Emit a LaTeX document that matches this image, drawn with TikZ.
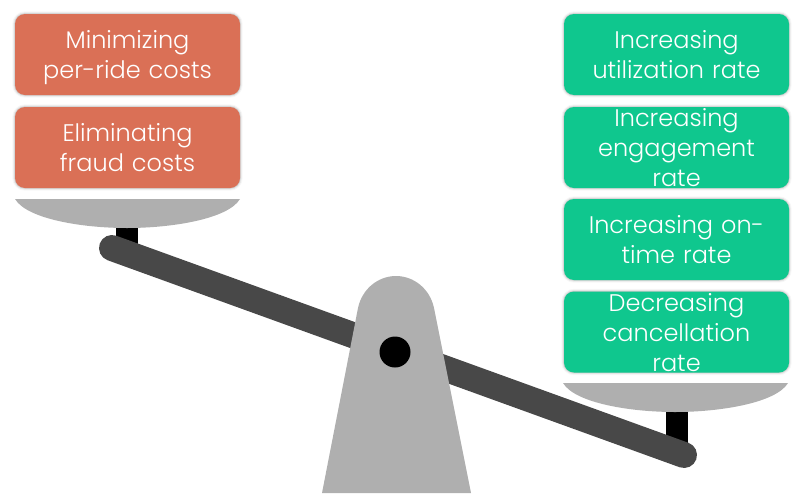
\documentclass[tikz,border=0pt]{standalone}
\usepackage{fontspec}
\setmainfont{Poppins}[UprightFont=* Light]
\definecolor{costred}{RGB}{218,112,86}
\definecolor{rategreen}{RGB}{15,199,142}
\definecolor{pangray}{RGB}{175,175,175}
\definecolor{beamgray}{RGB}{72,72,72}
\newcommand{\linestrut}{\rule[-7.5pt]{0pt}{21pt}}
\begin{document}
\begin{tikzpicture}[x=0.75pt,y=-0.75pt]
\tikzstyle{card}=[rounded corners=7.5pt, inner sep=0pt, minimum width=168.75pt, minimum height=60.75pt,
  preaction={draw=black, opacity=0.03, line width=4pt}, preaction={draw=black, opacity=0.06, line width=2.5pt}, preaction={draw=black, opacity=0.12, line width=1pt}]
\tikzstyle{cardtext}=[inner sep=0pt, yshift=-3.75pt, text width=168.75pt, align=center, text=white, font=\fontsize{18}{22.5}\selectfont,
  execute at begin node=\linestrut, execute at end node=\linestrut]
\tikzstyle{cost}=[card, fill=costred]
\tikzstyle{rate}=[card, fill=rategreen]
\useasboundingbox (0,0) rectangle (802,493);

% stems and beam
\fill[black] (116,225) rectangle (138,245);
\fill[black] (666,410) rectangle (688,450);
\draw[beamgray, line width=19.5pt, line cap=round] (112,248) -- (684,455);

% pans
\fill[pangray] (15,199) -- (240,199) .. controls (228,219) and (172,228) .. (127,228) .. controls (82,228) and (27,219) .. (15,199) -- cycle;
\fill[pangray] (563,383) -- (788,383) .. controls (776,403) and (720,412) .. (675,412) .. controls (630,412) and (575,403) .. (563,383) -- cycle;

% post
\fill[pangray] (322,493) -- (358,308) .. controls (362,289) and (378,276) .. (396,276) .. controls (414,276) and (430,289) .. (434,308) -- (471,493) -- cycle;
\node[circle, fill=black, inner sep=0pt, minimum size=23.25pt] (hub) at (395,352) {};

% left side
\node[cost, label={[cardtext]center:Minimizing\\per-ride costs}] (perride) at (127.5,54.5) {};
\node[cost, label={[cardtext]center:Eliminating\\fraud costs}] (fraud) at (127.5,147.5) {};

% right side
\node[rate, label={[cardtext]center:Increasing\\utilization rate}] (utilization) at (676.5,54.5) {};
\node[rate, label={[cardtext]center:Increasing\\engagement\\rate}] (engagement) at (676.5,147.5) {};
\node[rate, label={[cardtext]center:Increasing on-\\time rate}] (ontime) at (676.5,239.5) {};
\node[rate, label={[cardtext]center:Decreasing\\cancellation\\rate}] (cancellation) at (676.5,332) {};
\end{tikzpicture}
\end{document}
